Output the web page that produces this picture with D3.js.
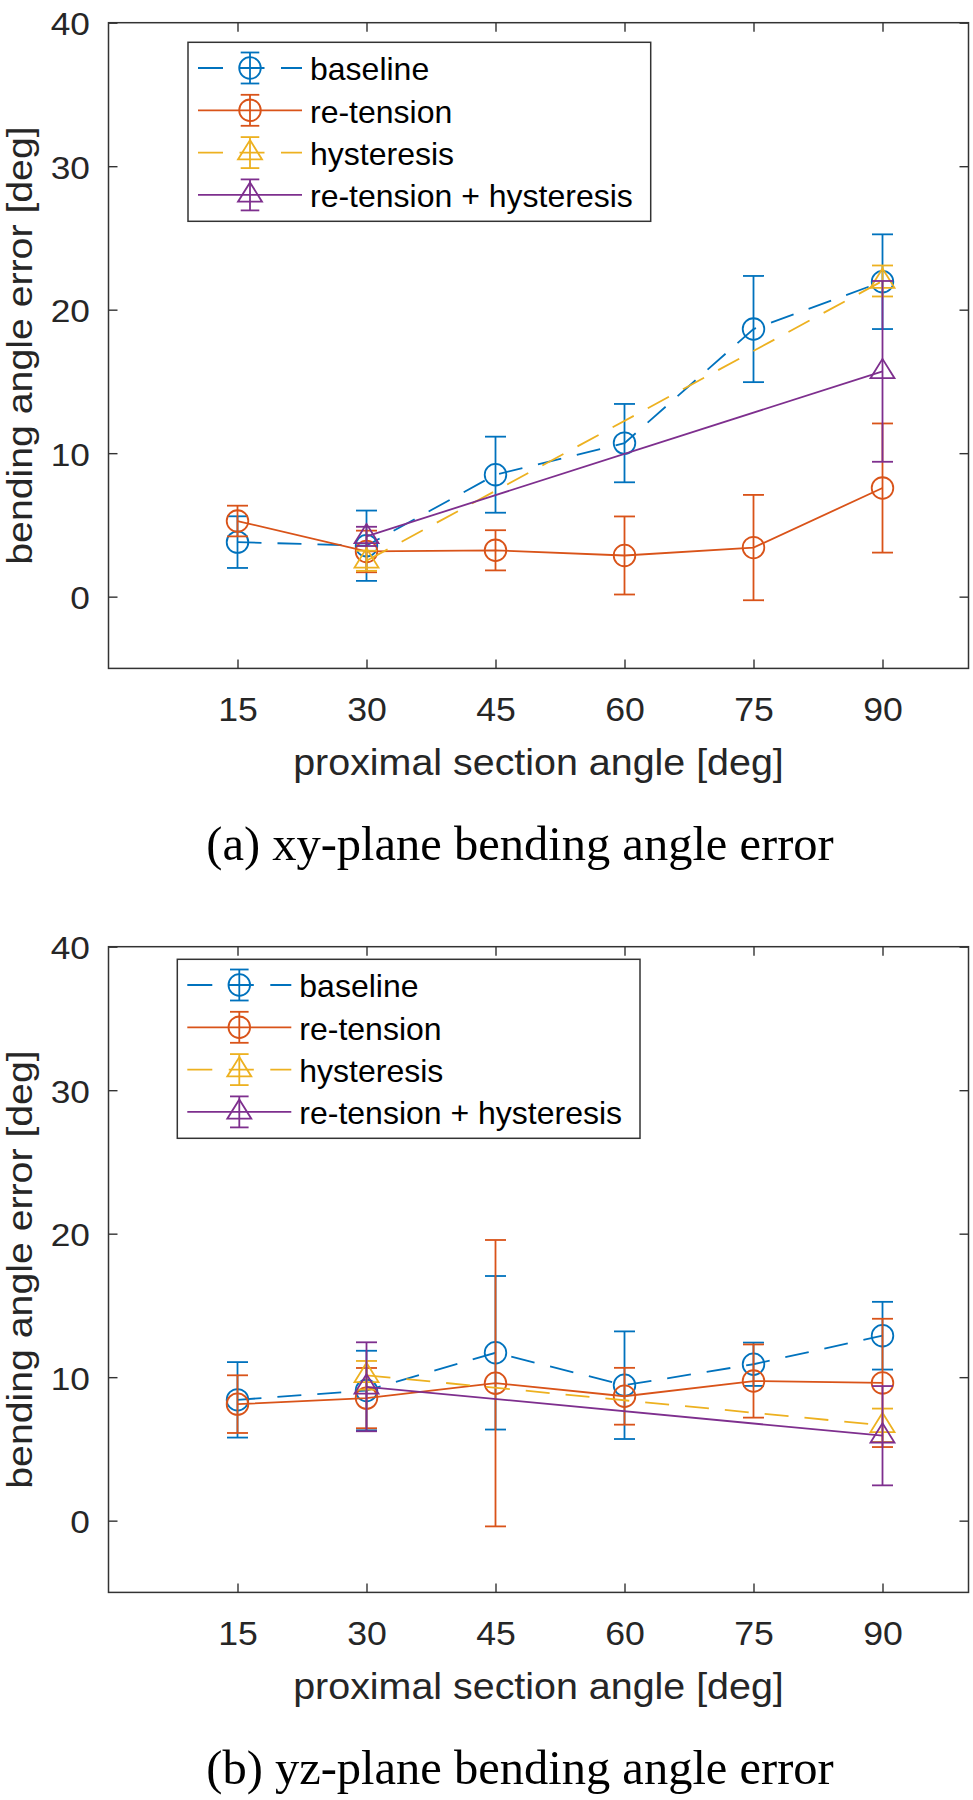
<!DOCTYPE html>
<html>
<head>
<meta charset="utf-8">
<script src="https://cdn.jsdelivr.net/npm/d3@7"></script>
<style>
body { margin: 0; background: #fff; }
svg text { font-family: "Liberation Sans", Arial, sans-serif; }
</style>
</head>
<body>
<svg id="chart" width="973" height="1800"></svg>
<script>
// x values
const angles = [15, 30, 45, 60, 75, 90];
const hystAngles = [30, 90];
const xTicks = [15, 30, 45, 60, 75, 90];
const yTicks = [0, 10, 20, 30, 40];

// (a) xy-plane bending angle error
const xyBaseline = [3.8, 3.55, 8.5, 10.7, 18.65, 21.95];
const xyBaselineErr = [1.8, 2.45, 2.65, 2.73, 3.7, 3.3];
const xyRetension = [5.27, 3.15, 3.23, 2.87, 3.42, 7.57];
const xyRetensionErr = [1.07, 1.45, 1.4, 2.72, 3.67, 4.5];
const xyHysteresis = [2.5, 22.0];
const xyHysteresisErr = [0.7, 1.08];
const xyBoth = [4.2, 15.7];
const xyBothErr = [0.67, 6.3];

// (b) yz-plane bending angle error
const yzBaseline = [8.42, 9.07, 11.7, 9.44, 10.9, 12.89];
const yzBaselineErr = [2.63, 2.77, 5.35, 3.75, 1.51, 2.36];
const yzRetension = [8.12, 8.54, 9.58, 8.67, 9.73, 9.6];
const yzRetensionErr = [2.01, 2.1, 9.98, 1.98, 2.55, 4.47];
const yzHysteresis = [10.13, 6.65];
const yzHysteresisErr = [1.0, 1.16];
const yzBoth = [9.33, 5.92];
const yzBothErr = [3.1, 3.46];

const seriesNames = ["baseline", "re-tension", "hysteresis", "re-tension + hysteresis"];
const seriesColors = ["#0072BD", "#D95319", "#EDB120", "#7E2F8E"];
const seriesDashed = [true, false, true, false];
const seriesMarkers = ["circle", "circle", "triangle", "triangle"];

const xLabel = "proximal section angle [deg]";
const yLabel = "bending angle error [deg]";

function makeSeries(xs, vals, errs) {
    return xs.map((a, i) => ({ x: a, v: vals[i], e: errs[i] }));
}

const panels = [
    {
        top: 22.7,
        caption: "(a) xy-plane bending angle error",
        legend: { x: 188, y: 42.3 },
        series: [
            makeSeries(angles, xyBaseline, xyBaselineErr),
            makeSeries(angles, xyRetension, xyRetensionErr),
            makeSeries(hystAngles, xyHysteresis, xyHysteresisErr),
            makeSeries(hystAngles, xyBoth, xyBothErr)
        ]
    },
    {
        top: 946.7,
        caption: "(b) yz-plane bending angle error",
        legend: { x: 177.3, y: 959.3 },
        series: [
            makeSeries(angles, yzBaseline, yzBaselineErr),
            makeSeries(angles, yzRetension, yzRetensionErr),
            makeSeries(hystAngles, yzHysteresis, yzHysteresisErr),
            makeSeries(hystAngles, yzBoth, yzBothErr)
        ]
    }
];

const svg = d3.select("#chart");
const axisColor = "#333333";
const plotLeft = 108.5, plotRight = 968.5, plotHeight = 645.7;
const capHalf = 10.5;
const lineW = 1.8;

function drawMarker(g, type, cx, cy, color) {
    if (type == "circle") {
        g.append("circle")
            .attr("cx", cx).attr("cy", cy).attr("r", 10.8)
            .attr("fill", "none").attr("stroke", color).attr("stroke-width", lineW);
    } else {
        g.append("path")
            .attr("d", `M${cx},${cy - 12.5}L${cx + 12},${cy + 6.8}L${cx - 12},${cy + 6.8}Z`)
            .attr("fill", "none").attr("stroke", color).attr("stroke-width", lineW)
            .attr("stroke-linejoin", "miter");
    }
}

function drawErrorBar(g, cx, y1, y2, color, half) {
    g.append("line").attr("x1", cx).attr("x2", cx).attr("y1", y1).attr("y2", y2)
        .attr("stroke", color).attr("stroke-width", lineW);
    [y1, y2].forEach(yy => {
        g.append("line").attr("x1", cx - half).attr("x2", cx + half).attr("y1", yy).attr("y2", yy)
            .attr("stroke", color).attr("stroke-width", lineW);
    });
}

panels.forEach(function (p) {
    let x = d3.scaleLinear().domain([0, 100]).range([plotLeft, plotRight]);
    let y = d3.scaleLinear().domain([-5, 40]).range([p.top + plotHeight, p.top]);
    let bottom = p.top + plotHeight;

    let g = svg.append("g");

    // axes box with inward ticks on all four sides
    let xb = g.append("g").attr("transform", `translate(0,${bottom})`)
        .call(d3.axisBottom(x).tickValues(xTicks).tickSizeInner(-9).tickSizeOuter(0));
    xb.selectAll("text")
        .attr("y", null).attr("dy", null)
        .attr("transform", "translate(0,52.2) scale(1.08,1)")
        .style("font-size", "33px").attr("fill", "#262626")
        .style("font-family", "'Liberation Sans', Arial, sans-serif");

    g.append("g").attr("transform", `translate(0,${p.top})`)
        .call(d3.axisTop(x).tickValues(xTicks).tickSizeInner(-9).tickSizeOuter(0).tickFormat(""));

    let yl = g.append("g").attr("transform", `translate(${plotLeft},0)`)
        .call(d3.axisLeft(y).tickValues(yTicks).tickSizeInner(-9).tickSizeOuter(0));
    yl.selectAll("text")
        .attr("x", null).attr("dy", null)
        .attr("text-anchor", "end")
        .attr("transform", `translate(${90 - plotLeft},12) scale(1.12,1)`)
        .style("font-size", "31.5px").attr("fill", "#262626")
        .style("font-family", "'Liberation Sans', Arial, sans-serif");

    g.append("g").attr("transform", `translate(${plotRight},0)`)
        .call(d3.axisRight(y).tickValues(yTicks).tickSizeInner(-9).tickSizeOuter(0).tickFormat(""));

    g.selectAll(".domain").remove();
    g.selectAll(".tick line").attr("stroke", axisColor).attr("stroke-width", 1.4);

    g.append("rect")
        .attr("x", plotLeft).attr("y", p.top)
        .attr("width", plotRight - plotLeft).attr("height", plotHeight)
        .attr("fill", "none").attr("stroke", axisColor).attr("stroke-width", 1.5);

    // axis labels
    g.append("text")
        .attr("transform", `translate(${(plotLeft + plotRight) / 2},${bottom + 106.5}) scale(1.08,1)`)
        .attr("text-anchor", "middle")
        .style("font-size", "36.5px").attr("fill", "#262626")
        .text(xLabel);

    g.append("text")
        .attr("transform", `translate(32,${p.top + plotHeight / 2}) rotate(-90) scale(1.09,1)`)
        .attr("text-anchor", "middle")
        .style("font-size", "36px").attr("fill", "#262626")
        .text(yLabel);

    // caption
    g.append("text")
        .attr("x", 520).attr("y", bottom + 191.6)
        .attr("text-anchor", "middle")
        .style("font-family", "'Liberation Serif', 'Times New Roman', serif")
        .style("font-size", "48.5px").attr("fill", "#000")
        .text(p.caption);

    // data series
    p.series.forEach(function (s, i) {
        let color = seriesColors[i];
        let sg = g.append("g");

        let line = d3.line().x(d => x(d.x)).y(d => y(d.v));
        sg.append("path")
            .datum(s)
            .attr("d", line)
            .attr("fill", "none")
            .attr("stroke", color)
            .attr("stroke-width", lineW)
            .attr("stroke-dasharray", seriesDashed[i] ? "24,16" : null);

        s.forEach(function (d) {
            drawErrorBar(sg, x(d.x), y(d.v + d.e), y(d.v - d.e), color, capHalf);
        });
        s.forEach(function (d) {
            drawMarker(sg, seriesMarkers[i], x(d.x), y(d.v), color);
        });
    });

    // legend
    let lg = g.append("g").attr("transform", `translate(${p.legend.x},${p.legend.y})`);
    lg.append("rect")
        .attr("width", 462.7).attr("height", 179)
        .attr("fill", "#fff").attr("stroke", axisColor).attr("stroke-width", 1.5);

    seriesNames.forEach(function (name, i) {
        let ry = 25.7 + i * 42.3;
        let color = seriesColors[i];
        lg.append("line")
            .attr("x1", 10).attr("x2", 114).attr("y1", ry).attr("y2", ry)
            .attr("stroke", color).attr("stroke-width", lineW)
            .attr("stroke-dasharray", seriesDashed[i] ? "25,16.5" : null);
        drawErrorBar(lg, 62, ry - 15.5, ry + 15.5, color, 9.3);
        drawMarker(lg, seriesMarkers[i], 62, ry, color);
        lg.append("text")
            .attr("x", 122).attr("y", ry + 12.5)
            .style("font-size", "32px").attr("fill", "#000")
            .text(name);
    });
});
</script>
</body>
</html>
